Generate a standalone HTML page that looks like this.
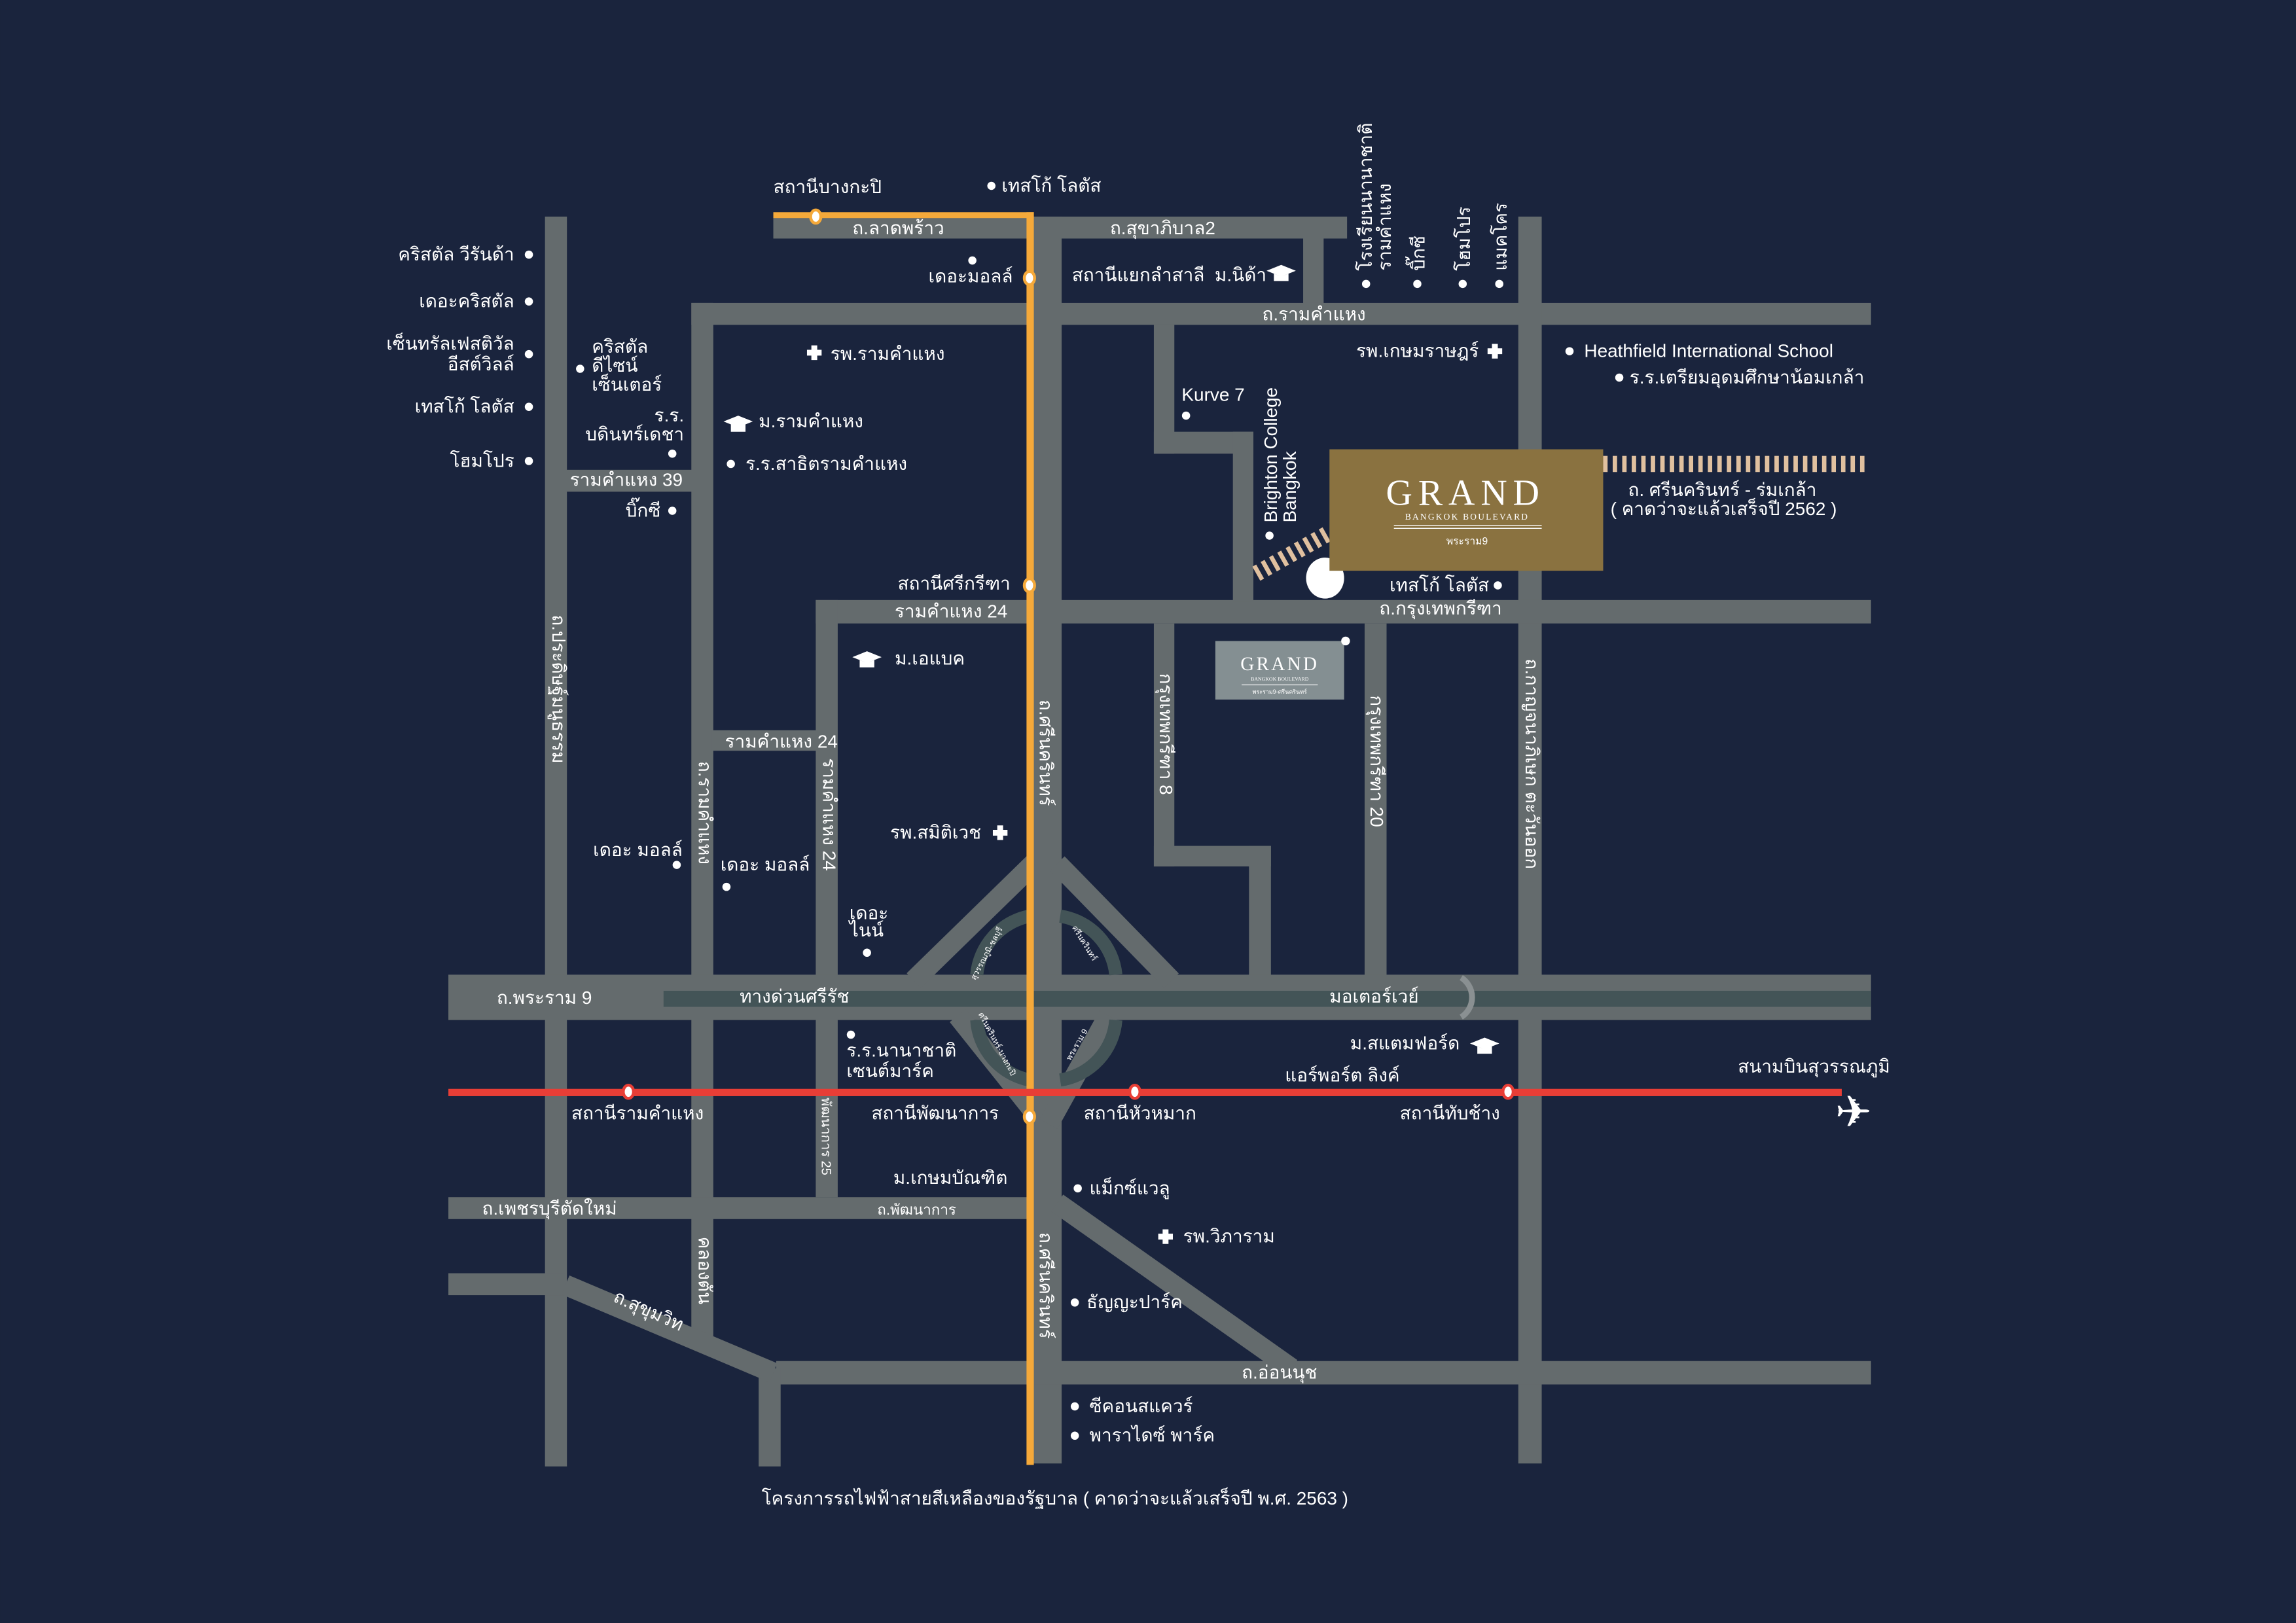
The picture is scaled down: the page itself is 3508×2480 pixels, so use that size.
<!DOCTYPE html>
<html><head><meta charset="utf-8"><style>
html,body{margin:0;padding:0;background:#1a243d;}
svg{display:block}
text{font-family:"Liberation Sans","DejaVu Sans",sans-serif;fill:#fff;font-size:12.5px}
text.sm{font-size:5.5px}
</style></head><body>
<svg width="3508" height="2480" viewBox="0 0 1568 1109" xmlns="http://www.w3.org/2000/svg">
<rect width="1568" height="1109" fill="#1a243d"/>
<g fill="#646b6d">
<rect x="372" y="148" width="15" height="854"/>
<rect x="528" y="148" width="392" height="15"/>
<rect x="890" y="160" width="14" height="50"/>
<rect x="472" y="207" width="806" height="15"/>
<rect x="472" y="207" width="15" height="706"/>
<rect x="1037" y="148" width="16" height="852"/>
<rect x="386" y="321" width="88" height="15"/>
<rect x="557" y="410" width="721" height="16"/>
<rect x="557" y="410" width="15" height="408"/>
<rect x="486" y="499" width="72" height="14"/>
<rect x="788" y="222" width="14" height="88"/>
<rect x="788" y="295" width="68" height="15"/>
<rect x="842" y="295" width="14" height="116"/>
<rect x="788" y="426" width="14" height="166"/>
<rect x="788" y="578" width="80" height="14"/>
<rect x="853" y="578" width="15" height="90"/>
<rect x="932" y="426" width="15" height="242"/>
<rect x="703" y="148" width="22" height="852"/>
<rect x="306" y="666" width="972" height="31"/>
<rect x="306" y="818" width="400" height="15"/>
<rect x="306" y="870" width="80" height="15"/>
<rect x="530" y="930" width="748" height="16"/>
<rect x="518" y="935" width="15" height="67"/>
</g>
<g stroke="#646b6d" stroke-width="14" fill="none">
<line x1="624" y1="670" x2="706" y2="590"/>
<line x1="722" y1="590" x2="800" y2="670"/>
<line x1="654" y1="694" x2="705" y2="758"/>
<line x1="757" y1="694" x2="716" y2="768"/>
<line x1="386" y1="878" x2="528" y2="938"/>
<line x1="722" y1="822" x2="882" y2="935"/>
</g>
<rect x="453" y="677" width="825" height="11" fill="#435457"/>
<path d="M998 668 A16 16 0 0 1 998 695" stroke="#8a9092" stroke-width="4" fill="none"/>
<g stroke="#435457" stroke-width="9" fill="none">
<path d="M667 666 A45 45 0 0 1 703 626"/>
<path d="M724 626 A45 45 0 0 1 762 666"/>
<path d="M667 697 A45 45 0 0 0 703 738"/>
<path d="M724 738 A45 45 0 0 0 762 697"/>
</g>
<rect x="528" y="145" width="178" height="4" fill="#f5a93a"/>
<rect x="701" y="145" width="5" height="856" fill="#f5a93a"/>
<rect x="306" y="744" width="952" height="5" fill="#e83e36"/>
<g fill="#fff" stroke="#e83e36" stroke-width="2">
<ellipse cx="429" cy="746" rx="3.5" ry="4.5"/><ellipse cx="775" cy="746" rx="3.5" ry="4.5"/><ellipse cx="1030" cy="746" rx="3.5" ry="4.5"/>
</g>
<g fill="#fff" stroke="#f5a93a" stroke-width="2">
<ellipse cx="557" cy="148" rx="3.5" ry="4.5"/><ellipse cx="703" cy="190" rx="3.5" ry="4.5"/><ellipse cx="703" cy="400" rx="3.5" ry="4.5"/><ellipse cx="703" cy="763" rx="3.5" ry="4.5"/>
</g>
<line x1="1095" y1="317" x2="1277" y2="317" stroke="#e0c09f" stroke-width="11" stroke-dasharray="3 3.5"/>
<line x1="858" y1="392" x2="908" y2="364" stroke="#e0c09f" stroke-width="11" stroke-dasharray="3 3.5"/>
<ellipse cx="905" cy="395" rx="13" ry="14" fill="#fff"/>
<rect x="908" y="307" width="187" height="83" fill="#8a7240"/>
<text x="1001" y="345" text-anchor="middle" style="font-family:'Liberation Serif',serif;font-size:25px;letter-spacing:4px">GRAND</text>
<text x="1002" y="355" text-anchor="middle" style="font-family:'Liberation Serif',serif;font-size:6px;letter-spacing:1px">BANGKOK BOULEVARD</text>
<line x1="952" y1="359" x2="1053" y2="359" stroke="#fff" stroke-width="0.6"/><line x1="952" y1="361" x2="1053" y2="361" stroke="#fff" stroke-width="0.6"/>
<text x="1002" y="372" text-anchor="middle" style="font-size:7px">พระราม9</text>
<rect x="830" y="438" width="88" height="40" fill="#848f92"/>
<text x="874" y="458" text-anchor="middle" style="font-family:'Liberation Serif',serif;font-size:13px;letter-spacing:1.5px">GRAND</text>
<text x="874" y="465" text-anchor="middle" style="font-family:'Liberation Serif',serif;font-size:3.5px">BANGKOK BOULEVARD</text>
<line x1="848" y1="468" x2="900" y2="468" stroke="#fff" stroke-width="0.5"/>
<text x="874" y="474" text-anchor="middle" style="font-size:4px">พระราม9-ศรีนครินทร์</text>
<circle cx="919" cy="438" r="3" fill="#fff"/>
<text x="1266" y="770" text-anchor="middle" style="font-size:30px">✈</text>
<g fill="#fff">
<circle cx="361" cy="174" r="2.8"/><circle cx="361" cy="206" r="2.8"/><circle cx="361" cy="242" r="2.8"/><circle cx="361" cy="278" r="2.8"/><circle cx="361" cy="315" r="2.8"/>
<circle cx="396" cy="252" r="2.8"/><circle cx="459" cy="310" r="2.8"/><circle cx="459" cy="349" r="2.8"/><circle cx="499" cy="317" r="2.8"/>
<circle cx="677" cy="127" r="2.8"/><circle cx="664" cy="178" r="2.8"/>
<circle cx="933" cy="194" r="2.8"/><circle cx="968" cy="194" r="2.8"/><circle cx="999" cy="194" r="2.8"/><circle cx="1024" cy="194" r="2.8"/>
<circle cx="1072" cy="240" r="2.8"/><circle cx="1106" cy="258" r="2.8"/><circle cx="810" cy="284" r="2.8"/><circle cx="867" cy="366" r="2.8"/>
<circle cx="1023" cy="400" r="2.8"/><circle cx="462" cy="591" r="2.8"/><circle cx="496" cy="606" r="2.8"/><circle cx="592" cy="651" r="2.8"/>
<circle cx="581" cy="707" r="2.8"/><circle cx="736" cy="812" r="2.8"/><circle cx="734" cy="890" r="2.8"/><circle cx="734" cy="961" r="2.8"/><circle cx="734" cy="981" r="2.8"/>
</g>
<g fill="#fff">
<path d="M554 236h4v3h3v4h-3v3h-4v-3h-3v-4h3z"/>
<path d="M1019 235h4v3h3v4h-3v3h-4v-3h-3v-4h3z"/>
<path d="M681 564h4v3h3v4h-3v3h-4v-3h-3v-4h3z"/>
<path d="M794 840h4v3h3v4h-3v3h-4v-3h-3v-4h3z"/>
</g>
<g fill="#fff">
<path d="M494 288l10-4 10 4-10 4z M499 290v5h10v-5l-5 2z"/>
<path d="M582 449l10-4 10 4-10 4z M587 451v5h10v-5l-5 2z"/>
<path d="M865 185l10-4 10 4-10 4z M870 187v5h10v-5l-5 2z"/>
<path d="M1004 713l10-4 10 4-10 4z M1009 715v5h10v-5l-5 2z"/>
</g>
<text x="528" y="132">สถานีบางกะปิ</text>
<text x="684" y="131">เทสโก้ โลตัส</text>
<text x="582" y="160">ถ.ลาดพร้าว</text>
<text x="758" y="160">ถ.สุขาภิบาล2</text>
<text x="634" y="193">เดอะมอลล์</text>
<text x="732" y="192">สถานีแยกลำสาลี &#160;ม.นิด้า</text>
<text x="862" y="219">ถ.รามคำแหง</text>
<g text-anchor="end">
<text x="351" y="178">คริสตัล วีรันด้า</text>
<text x="351" y="210">เดอะคริสตัล</text>
<text x="351" y="239">เซ็นทรัลเฟสติวัล</text>
<text x="351" y="253">อีสต์วิลล์</text>
<text x="351" y="282">เทสโก้ โลตัส</text>
<text x="351" y="319">โฮมโปร</text>
<text x="467" y="288">ร.ร.</text>
<text x="467" y="301">บดินทร์เดชา</text>
<text x="451" y="353">บิ๊กซี</text>
<text x="466" y="585">เดอะ มอลล์</text>
<text x="553" y="595">เดอะ มอลล์</text>
<text x="670" y="573">รพ.สมิติเวช</text>
<text x="690" y="403">สถานีศรีกรีฑา</text>
<text x="688" y="422">รามคำแหง 24</text>
<text x="572" y="511">รามคำแหง 24</text>
<text x="997" y="717">ม.สแตมฟอร์ด</text>
<text x="956" y="739">แอร์พอร์ต ลิงค์</text>
<text x="1017" y="404">เทสโก้ โลตัส</text>
<text x="1010" y="244">รพ.เกษมราษฎร์</text>
</g>
<text x="404" y="241">คริสตัล</text>
<text x="404" y="254">ดีไซน์</text>
<text x="404" y="267">เซ็นเตอร์</text>
<text x="389" y="332">รามคำแหง 39</text>
<text x="518" y="292">ม.รามคำแหง</text>
<text x="509" y="321">ร.ร.สาธิตรามคำแหง</text>
<text x="567" y="246">รพ.รามคำแหง</text>
<text x="611" y="454">ม.เอแบค</text>
<text x="807" y="274">Kurve 7</text>
<text x="942" y="420">ถ.กรุงเทพกรีฑา</text>
<text x="1082" y="244">Heathfield International School</text>
<text x="1113" y="262">ร.ร.เตรียมอุดมศึกษาน้อมเกล้า</text>
<text x="1112" y="339">ถ. ศรีนครินทร์ - ร่มเกล้า</text>
<text x="1100" y="352">( คาดว่าจะแล้วเสร็จปี 2562 )</text>
<text x="580" y="628">เดอะ</text>
<text x="580" y="640">ไนน์</text>
<text x="339" y="686">ถ.พระราม 9</text>
<text x="505" y="685">ทางด่วนศรีรัช</text>
<text x="908" y="685">มอเตอร์เวย์</text>
<text x="578" y="722">ร.ร.นานาชาติ</text>
<text x="578" y="736">เซนต์มาร์ค</text>
<text x="390" y="765">สถานีรามคำแหง</text>
<text x="595" y="765">สถานีพัฒนาการ</text>
<text x="740" y="765">สถานีหัวหมาก</text>
<text x="956" y="765">สถานีทับช้าง</text>
<text x="1187" y="733">สนามบินสุวรรณภูมิ</text>
<text x="610" y="809">ม.เกษมบัณฑิต</text>
<text x="744" y="816">แม็กซ์แวลู</text>
<text x="599" y="830" style="font-size:10px">ถ.พัฒนาการ</text>
<text x="329" y="830">ถ.เพชรบุรีตัดใหม่</text>
<text x="808" y="849">รพ.วิภาราม</text>
<text x="742" y="894">ธัญญะปาร์ค</text>
<text x="848" y="942">ถ.อ่อนนุช</text>
<text x="744" y="965">ซีคอนสแควร์</text>
<text x="744" y="985">พาราไดซ์ พาร์ค</text>
<text x="520" y="1028">โครงการรถไฟฟ้าสายสีเหลืองของรัฐบาล ( คาดว่าจะแล้วเสร็จปี พ.ศ. 2563 )</text>
<text transform="translate(418,889) rotate(24)">ถ.สุขุมวิท</text>
<text transform="translate(377,420) rotate(90)">ถ.ประดิษฐ์มนูธรรม</text>
<text transform="translate(477,520) rotate(90)">ถ.รามคำแหง</text>
<text transform="translate(562,518) rotate(90)">รามคำแหง 24</text>
<text transform="translate(561,750) rotate(90)" style="font-size:9px">พัฒนาการ 25</text>
<text transform="translate(710,478) rotate(90)">ถ.ศรีนครินทร์</text>
<text transform="translate(710,842) rotate(90)">ถ.ศรีนครินทร์</text>
<text transform="translate(477,845) rotate(90)">คลองตัน</text>
<text transform="translate(792,460) rotate(90)">กรุงเทพกรีฑา 8</text>
<text transform="translate(936,475) rotate(90)">กรุงเทพกรีฑา 20</text>
<text transform="translate(1042,450) rotate(90)">ถ.กาญจนาภิเษก ตะวันออก</text>
<text transform="translate(872,357) rotate(-90)">Brighton College</text>
<text transform="translate(885,357) rotate(-90)">Bangkok</text>
<text transform="translate(937,185) rotate(-90)">โรงเรียนนานาชาติ</text>
<text transform="translate(950,185) rotate(-90)">รามคำแหง</text>
<text transform="translate(973,185) rotate(-90)">บิ๊กซี</text>
<text transform="translate(1004,185) rotate(-90)">โฮมโปร</text>
<text transform="translate(1029,185) rotate(-90)">แมคโคร</text>
<text class="sm" transform="translate(666,670) rotate(-62)">สุวรรณภูมิ-ชลบุรี</text>
<text class="sm" transform="translate(732,634) rotate(58)">ศรีนครินทร์</text>
<text class="sm" transform="translate(668,693) rotate(62)">ศรีนครินทร์-บางกะปิ</text>
<text class="sm" transform="translate(731,725) rotate(-60)">พระราม 9</text>
</svg>
</body></html>
